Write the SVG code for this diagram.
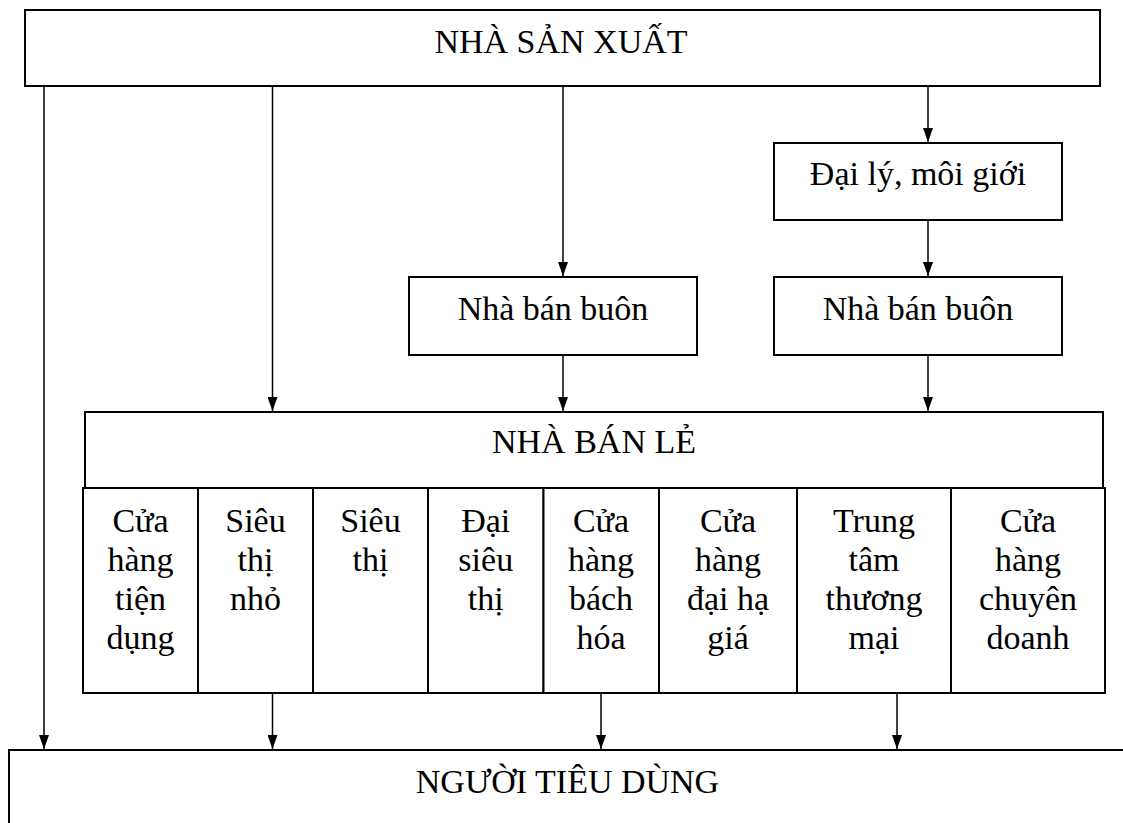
<svg xmlns="http://www.w3.org/2000/svg" width="1123" height="823" viewBox="0 0 1123 823">
<style>
.box{fill:#fff;stroke:#000;stroke-width:2}
.t{font-family:"Liberation Serif","Times New Roman",serif;font-size:34px;fill:#000;text-anchor:middle}
.c{stroke:#000;stroke-width:1.5;fill:none;marker-end:url(#ah)}
</style>
<defs>
<marker id="ah" viewBox="0 -5 14 10" refX="14" refY="0" markerWidth="14" markerHeight="10" markerUnits="userSpaceOnUse" orient="auto">
<path d="M0,-5 L14,0 L0,5 z" fill="#000"/>
</marker>
</defs>
<rect width="1123" height="823" fill="#fff"/>
<g id="nha-san-xuat">
<rect class="box" x="25" y="10" width="1075" height="76"/>
<text class="t" x="561" y="53">NHÀ SẢN XUẤT</text>
</g>
<g id="dai-ly">
<rect class="box" x="774" y="143" width="288" height="77"/>
<text class="t" x="918" y="185">Đại lý, môi giới</text>
</g>
<g id="nha-ban-buon-1">
<rect class="box" x="409" y="277" width="288" height="78"/>
<text class="t" x="553" y="320">Nhà bán buôn</text>
</g>
<g id="nha-ban-buon-2">
<rect class="box" x="774" y="277" width="288" height="78"/>
<text class="t" x="918" y="320">Nhà bán buôn</text>
</g>
<g id="nha-ban-le">
<rect class="box" x="85" y="412" width="1018" height="76"/>
<text class="t" x="594" y="453">NHÀ BÁN LẺ</text>
</g>
<g id="col1">
<rect class="box" x="83" y="488" width="115" height="205"/>
<text class="t" x="140.5" y="532">Cửa</text><text class="t" x="140.5" y="571">hàng</text><text class="t" x="140.5" y="610">tiện</text><text class="t" x="140.5" y="649">dụng</text>
</g>
<g id="col2">
<rect class="box" x="198" y="488" width="115" height="205"/>
<text class="t" x="255.5" y="532">Siêu</text><text class="t" x="255.5" y="571">thị</text><text class="t" x="255.5" y="610">nhỏ</text>
</g>
<g id="col3">
<rect class="box" x="313" y="488" width="115" height="205"/>
<text class="t" x="370.5" y="532">Siêu</text><text class="t" x="370.5" y="571">thị</text>
</g>
<g id="col4">
<rect class="box" x="428" y="488" width="115.5" height="205"/>
<text class="t" x="485.75" y="532">Đại</text><text class="t" x="485.75" y="571">siêu</text><text class="t" x="485.75" y="610">thị</text>
</g>
<g id="col5">
<rect class="box" x="543.5" y="488" width="115.5" height="205"/>
<text class="t" x="601" y="532">Cửa</text><text class="t" x="601" y="571">hàng</text><text class="t" x="601" y="610">bách</text><text class="t" x="601" y="649">hóa</text>
</g>
<g id="col6">
<rect class="box" x="659" y="488" width="138" height="205"/>
<text class="t" x="728" y="532">Cửa</text><text class="t" x="728" y="571">hàng</text><text class="t" x="728" y="610">đại hạ</text><text class="t" x="728" y="649">giá</text>
</g>
<g id="col7">
<rect class="box" x="797" y="488" width="154" height="205"/>
<text class="t" x="874" y="532">Trung</text><text class="t" x="874" y="571">tâm</text><text class="t" x="874" y="610">thương</text><text class="t" x="874" y="649">mại</text>
</g>
<g id="col8">
<rect class="box" x="951" y="488" width="154" height="205"/>
<text class="t" x="1028" y="532">Cửa</text><text class="t" x="1028" y="571">hàng</text><text class="t" x="1028" y="610">chuyên</text><text class="t" x="1028" y="649">doanh</text>
</g>
<g id="nguoi-tieu-dung">
<rect class="box" x="9" y="750" width="1130" height="100"/>
<text class="t" x="567.5" y="793">NGƯỜI TIÊU DÙNG</text>
</g>
<g id="connectors">
<line class="c" x1="44" y1="86" x2="44" y2="749"/>
<line class="c" x1="272.5" y1="86" x2="272.5" y2="411"/>
<line class="c" x1="563" y1="86" x2="563" y2="276"/>
<line class="c" x1="928" y1="86" x2="928" y2="142"/>
<line class="c" x1="928" y1="220" x2="928" y2="276"/>
<line class="c" x1="563" y1="355" x2="563" y2="411"/>
<line class="c" x1="928" y1="355" x2="928" y2="411"/>
<line class="c" x1="272.5" y1="693" x2="272.5" y2="749"/>
<line class="c" x1="601" y1="693" x2="601" y2="749"/>
<line class="c" x1="897" y1="693" x2="897" y2="749"/>
</g>
</svg>
